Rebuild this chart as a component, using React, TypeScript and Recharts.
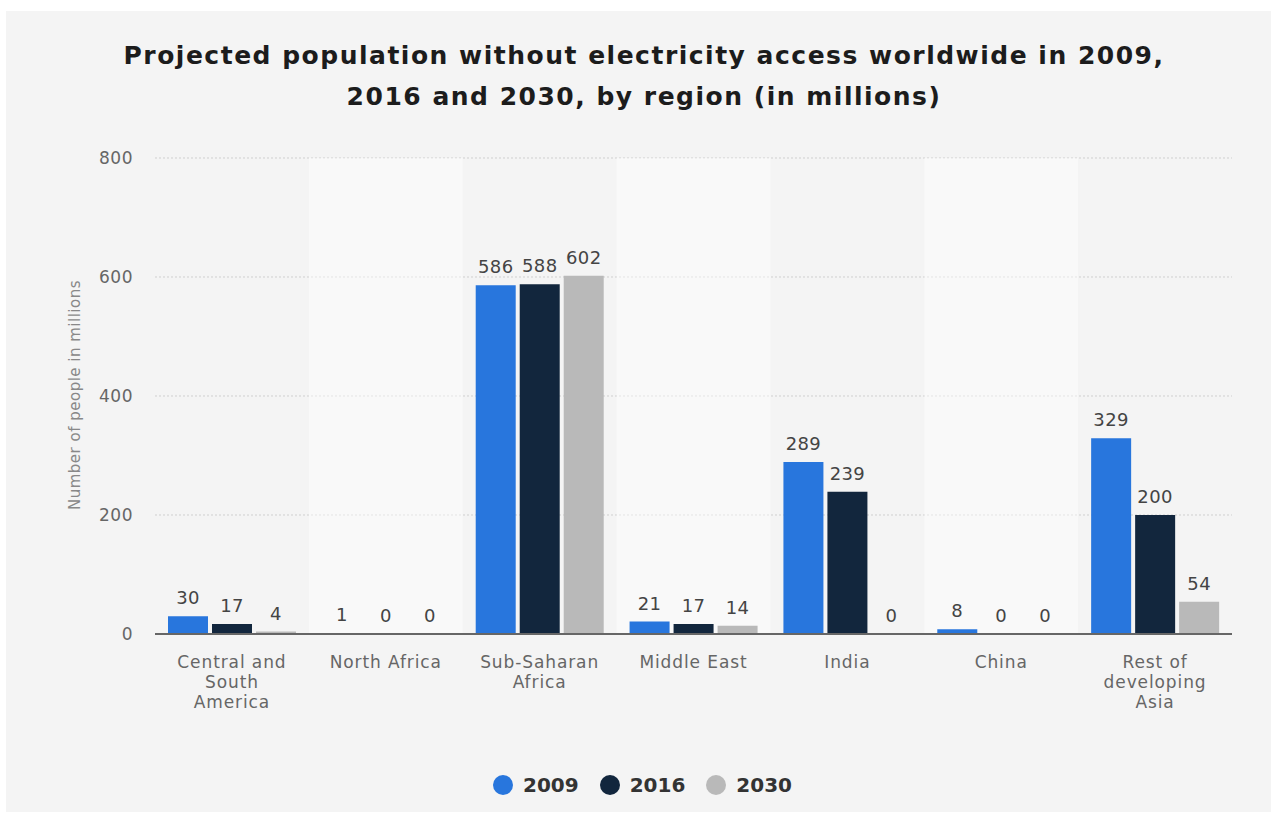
import React from 'react';
import { BarChart, Bar, XAxis, YAxis, CartesianGrid, ReferenceArea, LabelList } from 'recharts';

const regions = [
  'Central and South America',
  'North Africa',
  'Sub-Saharan Africa',
  'Middle East',
  'India',
  'China',
  'Rest of developing Asia',
];

// wrapped lines for the category labels under the axis
const regionLines = [
  ['Central and', 'South', 'America'],
  ['North Africa'],
  ['Sub-Saharan', 'Africa'],
  ['Middle East'],
  ['India'],
  ['China'],
  ['Rest of', 'developing', 'Asia'],
];

const values2009 = [30, 1, 586, 21, 289, 8, 329];
const values2016 = [17, 0, 588, 17, 239, 0, 200];
const values2030 = [4, 0, 602, 14, 0, 0, 54];

const yTicks = [0, 200, 400, 600, 800];

const series = [
  { key: 'y2009', name: '2009', color: '#2876dd', values: values2009 },
  { key: 'y2016', name: '2016', color: '#12263d', values: values2016 },
  { key: 'y2030', name: '2030', color: '#b9b9b9', values: values2030 },
];

const data = regions.map((region, i) => {
  const row: Record<string, string | number> = { region };
  series.forEach(s => {
    row[s.key] = s.values[i];
  });
  return row;
});

const FONT = '"DejaVu Sans", sans-serif';

const RegionTick = (props: any) => {
  const { x, y, payload } = props;
  const idx = props.index ?? regions.indexOf(payload.value);
  const lines = regionLines[idx] || [payload.value];
  return (
    <text x={x} y={y} textAnchor="middle" fill="#666" fontSize={17} letterSpacing={0.9} fontFamily={FONT}>
      {lines.map((line, i) => (
        <tspan key={i} x={x} dy={i === 0 ? 34 : 20}>
          {line}
        </tspan>
      ))}
    </text>
  );
};

const YTitle = () => (
  <text
    x={69}
    y={384}
    transform="rotate(-90, 69, 384)"
    textAnchor="middle"
    dominantBaseline="central"
    fill="#888"
    fontSize={15}
    letterSpacing={0.5}
    fontFamily={FONT}
  >
    Number of people in millions
  </text>
);

// value printed above each bar, zeros included
const ValueLabel = (props: any) => {
  const { x, y, width, value } = props;
  return (
    <text
      x={Number(x) + Number(width) / 2}
      y={Number(y) - 12}
      textAnchor="middle"
      fill="#444"
      fontSize={18}
      letterSpacing={0.4}
      fontFamily={FONT}
    >
      {value}
    </text>
  );
};

const zeroSafe = (v: number) => (v === 0 ? 0.01 : 0);

export default function App() {
  return (
    <div style={{ position: 'absolute', left: 0, top: 0, width: 1277, height: 814, background: '#fff' }}>
      <div
        style={{
          position: 'absolute',
          left: 6,
          top: 11,
          width: 1265,
          height: 801,
          background: '#f4f4f4',
          fontFamily: FONT,
        }}
      >
        <div
          style={{
            position: 'absolute',
            left: 0,
            top: 24,
            width: 1276,
            textAlign: 'center',
            fontSize: 25,
            letterSpacing: 1.5,
            fontWeight: 'bold',
            lineHeight: '41px',
            color: '#1c1c1c',
          }}
        >
          Projected population without electricity access worldwide in 2009,
          <br />
          2016 and 2030, by region (in millions)
        </div>

        <BarChart
          width={1265}
          height={801}
          data={data}
          margin={{ top: 147, right: 39, bottom: 78, left: 0 }}
          barSize={40}
          barGap={4}
        >
          {regions.map((r, i) =>
            i % 2 === 1 ? (
              <ReferenceArea key={r} x1={r} x2={r} fill="#ffffff" fillOpacity={0.45} strokeOpacity={0} />
            ) : null
          )}
          <CartesianGrid vertical={false} stroke="#cfcfcf" strokeDasharray="2 2" />
          <XAxis
            dataKey="region"
            interval={0}
            height={100}
            tickLine={false}
            tickSize={0}
            tickMargin={0}
            axisLine={{ stroke: '#666', strokeWidth: 2 }}
            tick={<RegionTick />}
          />
          <YAxis
            width={149}
            domain={[0, 800]}
            ticks={yTicks}
            axisLine={false}
            tickLine={false}
            tickSize={0}
            tickMargin={22}
            tick={{ fill: '#666', fontSize: 17, letterSpacing: 0.5, fontFamily: FONT }}
            label={{ content: () => <YTitle /> }}
          />
          {series.map(s => (
            <Bar
              key={s.key}
              dataKey={s.key}
              name={s.name}
              fill={s.color}
              minPointSize={zeroSafe}
              isAnimationActive={false}
            >
              <LabelList dataKey={s.key} content={<ValueLabel />} />
            </Bar>
          ))}
        </BarChart>

        <div
          style={{
            position: 'absolute',
            left: 487,
            top: 762,
            display: 'flex',
            alignItems: 'center',
            height: 24,
          }}
        >
          {series.map(s => (
            <div key={s.key} style={{ display: 'flex', alignItems: 'center', marginRight: 21 }}>
              <span
                style={{
                  display: 'inline-block',
                  width: 20,
                  height: 20,
                  borderRadius: 10,
                  background: s.color,
                  marginRight: 10,
                }}
              />
              <span style={{ fontSize: 20, fontWeight: 'bold', color: '#333' }}>{s.name}</span>
            </div>
          ))}
        </div>
      </div>
    </div>
  );
}
